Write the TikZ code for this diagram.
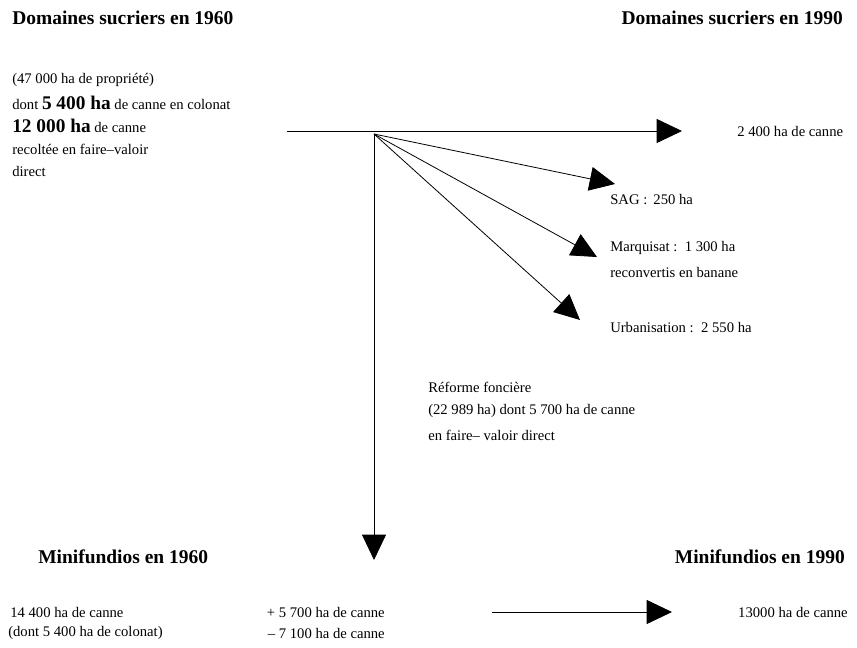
\documentclass[tikz,border=0pt]{standalone}
\usepackage{fontspec}
\setmainfont{Liberation Serif}
\usetikzlibrary{arrows.meta}
\newcommand{\surf}[1]{{\fontsize{14.5}{17}\selectfont\bfseries #1}}

\begin{document}
\begin{tikzpicture}[x=0.75pt,y=-0.75pt,
	txt/.style={anchor=west,inner sep=0pt,font=\fontsize{11}{13}\selectfont},
	rtxt/.style={txt,anchor=east},
	ttl/.style={anchor=west,inner sep=0pt,font=\fontsize{14.6}{17}\selectfont\bfseries},
	flow/.style={-{Triangle[length=19pt,width=18pt]},line width=0.6pt}]
	\useasboundingbox (0,0) rectangle (857,647);

	% Titles
	\node[ttl] (t60) at (12,18) {Domaines sucriers en 1960};
	\node[ttl,anchor=east] (t90) at (843,18) {Domaines sucriers en 1990};
	\node[ttl] (m60) at (38,557) {Minifundios en 1960};
	\node[ttl,anchor=east] (m90) at (845,557) {Minifundios en 1990};

	% Domaines 1960
	\node[txt] (d1) at (12,80) {(47 000 ha de propriété)};
	\node[txt] (d2) at (12,103) {dont \surf{5 400 ha} de canne en colonat};
	\node[txt] (d3) at (12,126) {\surf{12 000 ha} de canne};
	\node[txt] (d4) at (12,149) {recoltée en faire--valoir};
	\node[txt] (d5) at (12,171) {direct};

	% Domaines 1990 and losses
	\node[txt] (canne90) at (737,131) {2 400 ha de canne};
	\node[txt] (sag) at (610,200) {SAG :\, 250 ha};
	\node[txt] (marq) at (610,248) {Marquisat :\, 1 300 ha};
	\node[txt] (marq2) at (610,272) {reconvertis en banane};
	\node[txt] (urb) at (610,328) {Urbanisation :\, 2 550 ha};

	% Reforme fonciere
	\node[txt] (ref1) at (428,387) {Réforme foncière};
	\node[txt] (ref2) at (428,411) {(22 989 ha) dont 5 700 ha de canne};
	\node[txt] (ref3) at (428,435) {en faire-- valoir direct};

	% Minifundios
	\node[txt] (mi1) at (10,612) {14 400 ha de canne};
	\node[txt] (mi2) at (8,633) {(dont 5 400 ha de colonat)};
	\node[rtxt] (plus) at (385,612) {+ 5 700 ha de canne};
	\node[rtxt] (moins) at (385,633) {-- 7 100 ha de canne};
	\node[rtxt] (mi90) at (848,612) {13000 ha de canne};

	% Arrows
	\coordinate (start) at (287,131);
	\coordinate (hub) at (374,134);
	\coordinate (toCanne) at (682,131);
	\coordinate (toSag) at (615,184);
	\coordinate (toMarq) at (597,257);
	\coordinate (toUrb) at (580,320);
	\coordinate (toMini) at (374,560);
	\coordinate (mStart) at (492,612);
	\coordinate (mEnd) at (672,612);

	\draw[flow] (start) -- (toCanne);
	\draw[flow] (hub) -- (toSag);
	\draw[flow] (hub) -- (toMarq);
	\draw[flow] (hub) -- (toUrb);
	\draw[flow] (hub) -- (toMini);
	\draw[flow] (mStart) -- (mEnd);
\end{tikzpicture}
\end{document}
